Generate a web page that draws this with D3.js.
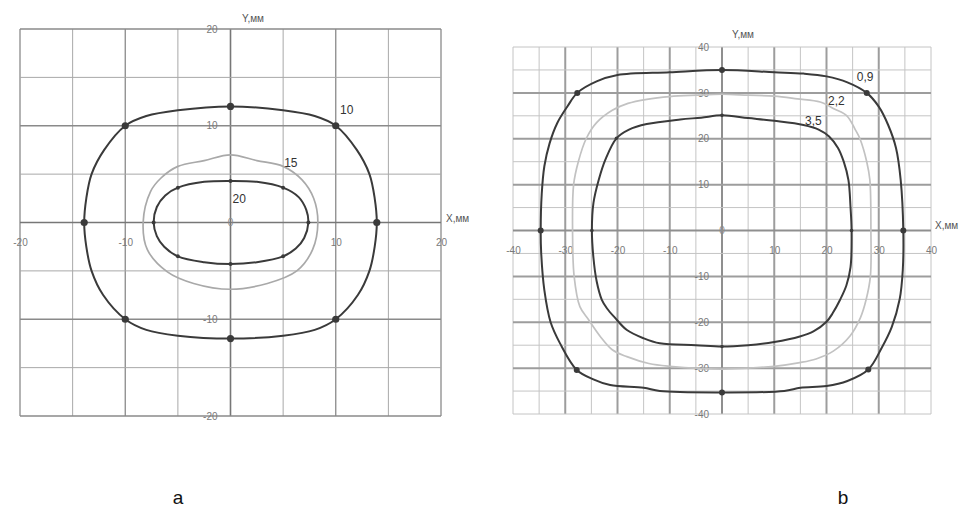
<!DOCTYPE html>
<html>
<head>
<meta charset="utf-8">
<script src="https://cdn.jsdelivr.net/npm/d3@7"></script>
<style>
  body { margin: 0; background: #fff; }
  text { font-family: 'Liberation Sans', sans-serif; }
</style>
</head>
<body>
<svg width="966" height="510"></svg>
<script>
// chart a: contours for 10, 15, 20
const curveA10 = [[0,12],[5,11.6],[8,11],[10,10],[12,7.5],[13.2,5],[13.7,2.5],[13.9,0],[13.7,-2.5],[13.2,-5],[12.1,-7.5],[10,-10],[8,-11.1],[5,-11.7],[0,-12],[-5,-11.7],[-8,-11.1],[-10,-10],[-12.1,-7.5],[-13.2,-5],[-13.7,-2.5],[-13.9,0],[-13.7,2.5],[-13.2,5],[-12,7.5],[-10,10],[-8,11],[-5,11.6]];
const curveA15 = [[0,7],[2.5,6.4],[5,5.8],[6.8,4.4],[7.9,2.5],[8.3,0],[7.8,-2.8],[6.3,-5],[3.5,-6.3],[0,-6.9],[-3.5,-6.3],[-6,-5.1],[-7.9,-2.8],[-8.3,0],[-7.6,3.2],[-6.6,4.6],[-5,5.8],[-2.5,6.4]];
const curveA20 = [[0,4.3],[2.5,4.2],[5,3.6],[6.5,2.6],[7.2,1.3],[7.4,0],[7,-1.6],[6.2,-2.7],[5,-3.5],[2.5,-4.1],[0,-4.3],[-2.5,-4.1],[-5,-3.5],[-6.3,-2.5],[-7,-1.4],[-7.3,0],[-7,1.6],[-6.2,2.8],[-5,3.6],[-2.5,4.2]];
const dotsA10 = [[0,12],[10,10],[13.9,0],[10,-10],[0,-12],[-10,-10],[-13.9,0],[-10,10]];
const dotsA20 = [[0,4.3],[5,3.6],[7.4,0],[5,-3.5],[0,-4.3],[-5,-3.5],[-7.3,0],[-5,3.6]];
const gridA = [-20,-15,-10,-5,0,5,10,15,20];
const majorA = [-20,-10,10,20];
const xTicksA = [-20,-10,10,20];
const yTicksA = [20,10,-10,-20];

// chart b: contours for 0,9 / 2,2 / 3,5
const curveB09 = [[0,35],[10,34.5],[15.6,34.2],[20,33.6],[24,32.3],[27.7,30],[30,27],[31.8,23],[33.3,18],[34.2,11],[34.7,0],[34.6,-8.6],[34,-15],[32.5,-21],[30.6,-25.5],[28,-30.3],[24,-32.8],[20,-33.9],[15,-34.3],[11.9,-35],[0,-35.3],[-11.9,-35],[-15,-34.3],[-21.4,-33.7],[-24.5,-32.5],[-27.8,-30.4],[-31,-24.6],[-32.8,-20],[-34,-13],[-34.6,-5],[-34.7,0],[-34.5,8],[-34,14],[-33,19],[-31.5,23.5],[-29.5,27.2],[-27.7,30],[-24,32.5],[-20,33.9],[-10,34.5]];
const curveB22 = [[0,29.7],[5,29.5],[10,29.3],[14.4,28.7],[18.8,28],[21.5,26.5],[23.9,25],[25.5,22],[26.4,20],[27.7,15],[28.3,11],[28.5,0],[28.4,-10],[27.6,-15],[26.5,-19],[24.5,-23],[21.3,-26.3],[18,-28],[14.9,-28.8],[10,-29.6],[0,-30.2],[-10,-29.6],[-14,-29],[-18.2,-27.5],[-21,-26],[-23.3,-23.1],[-25.5,-19.5],[-27.2,-16.6],[-28.3,-10],[-28.6,0],[-28.4,10],[-27.5,15],[-26,20],[-24,23.5],[-21,26.2],[-18,27.7],[-14.4,28.6],[-10,29.2],[-4.8,29.5]];
const curveB35 = [[0,25.1],[5,24.5],[10,23.9],[15.6,23],[18.5,22],[20.5,20.5],[22.2,18],[23.3,15],[24.2,11],[24.6,5],[24.8,0],[24.6,-8],[23.8,-12],[22.6,-15.1],[21.2,-18],[20,-19.9],[17.5,-22],[14.9,-23.1],[10,-24.3],[5,-25],[0,-25.3],[-5,-25],[-11.9,-24.6],[-15,-23.5],[-18.2,-21.7],[-20.5,-19],[-22,-17],[-23,-15.1],[-24,-11],[-24.6,-6],[-24.9,0],[-24.6,6],[-23.6,11],[-22.3,15.5],[-20.2,20.1],[-17.8,22],[-14.4,23.2],[-8,24.2],[-4,24.6]];
const dotsB09 = [[0,35],[27.7,30],[34.7,0],[28,-30.3],[0,-35.3],[-27.8,-30.4],[-34.7,0],[-27.7,30]];
const dotsB35 = [[0,25.1],[24.8,0],[0,-25.3],[-24.9,0],[-20.2,20.1]];
const gridB = [-40,-35,-30,-25,-20,-15,-10,-5,0,5,10,15,20,25,30,35,40];
const majorB = [-30,-20,-10,10,20,30];
const xTicksB = [-40,-30,-20,-10,10,20,30,40];
const yTicksB = [40,30,20,10,-10,-20,-30,-40];

const svg = d3.select('svg');

function panel(opt) {
  const x = d3.scaleLinear().domain(opt.domain).range(opt.xRange),
    y = d3.scaleLinear().domain(opt.domain).range(opt.yRange);
  const g = svg.append('g');

  const gridColor = (d) => (d === 0 ? opt.axisColor : opt.major.includes(d) ? opt.majorColor : opt.minorColor);
  const gridWidth = (d) => (d === 0 ? opt.axisWidth : opt.major.includes(d) ? opt.majorWidth : 1);

  // grid
  g.selectAll('.vg')
    .data(opt.grid)
    .enter()
    .append('line')
    .attr('x1', (d) => x(d)).attr('x2', (d) => x(d))
    .attr('y1', opt.yRange[1]).attr('y2', opt.yRange[0])
    .attr('stroke', gridColor)
    .attr('stroke-width', gridWidth);
  g.selectAll('.hg')
    .data(opt.grid)
    .enter()
    .append('line')
    .attr('y1', (d) => y(d)).attr('y2', (d) => y(d))
    .attr('x1', opt.xRange[0]).attr('x2', opt.xRange[1])
    .attr('stroke', gridColor)
    .attr('stroke-width', gridWidth);

  // tick labels through axes, no tick marks, plain hyphen minus
  const fmt = (d) => String(d);
  const ax = g.append('g')
    .attr('transform', 'translate(0,' + y(0) + ')')
    .call(d3.axisBottom(x).tickValues(opt.xTicks).tickFormat(fmt).tickSize(0).tickPadding(16));
  const ay = g.append('g')
    .attr('transform', 'translate(' + x(0) + ',0)')
    .call(d3.axisLeft(y).tickValues(opt.yTicks).tickFormat(fmt).tickSize(0).tickPadding(13));
  [ax, ay].forEach((a) => {
    a.select('.domain').remove();
    a.selectAll('text').attr('fill', '#7a7a7a').attr('font-size', '10px')
      .attr('font-family', "'Liberation Sans', sans-serif");
  });
  g.append('text').attr('x', x(0)).attr('y', y(0) + 3.5)
    .attr('text-anchor', 'middle').attr('font-size', '10px').attr('fill', '#8a8a8a').text('0');

  g.append('text').attr('x', opt.yTitle[0]).attr('y', opt.yTitle[1])
    .attr('text-anchor', 'middle').attr('font-size', '10px').attr('fill', '#555').text('Y,мм');
  g.append('text').attr('x', opt.xTitle[0]).attr('y', opt.xTitle[1])
    .attr('font-size', '10px').attr('fill', '#555').text('X,мм');

  const line = d3.line()
    .x((d) => x(d[0]))
    .y((d) => y(d[1]))
    .curve(d3.curveCatmullRomClosed.alpha(0.5));

  opt.curves.forEach((c) => {
    g.append('path')
      .attr('d', line(c.data))
      .attr('fill', 'none')
      .attr('stroke', c.color)
      .attr('stroke-width', c.width);
    if (c.dots) {
      g.selectAll(null)
        .data(c.dots)
        .enter()
        .append('circle')
        .attr('cx', (d) => x(d[0]))
        .attr('cy', (d) => y(d[1]))
        .attr('r', c.r)
        .attr('fill', c.color);
    }
    g.append('text')
      .attr('x', x(c.label[0]))
      .attr('y', y(c.label[1]))
      .attr('font-size', '12px')
      .attr('fill', '#333')
      .text(c.name);
  });

  svg.append('text')
    .attr('x', opt.caption[0]).attr('y', opt.caption[1])
    .attr('text-anchor', 'middle')
    .attr('font-family', "'Liberation Serif', serif")
    .attr('font-size', '19px')
    .attr('fill', '#111')
    .text(opt.captionText);
}

panel({
  domain: [-20, 20],
  xRange: [20, 441],
  yRange: [416, 29],
  grid: gridA,
  major: majorA,
  minorColor: '#a8a8a8',
  majorColor: '#8a8a8a',
  majorWidth: 1.3,
  axisColor: '#777',
  axisWidth: 1.6,
  xTicks: xTicksA,
  yTicks: yTicksA,
  yTitle: [253, 22],
  xTitle: [446, 222],
  curves: [
    { name: '10', data: curveA10, dots: dotsA10, r: 3.6, color: '#3a3a3a', width: 2, label: [10.4, 11.2] },
    { name: '15', data: curveA15, color: '#a9a9a9', width: 1.7, label: [5.1, 5.7] },
    { name: '20', data: curveA20, dots: dotsA20, r: 2, color: '#3a3a3a', width: 2, label: [0.2, 2] }
  ],
  caption: [178, 504],
  captionText: 'a'
});

panel({
  domain: [-40, 40],
  xRange: [513, 931],
  yRange: [414, 47],
  grid: gridB,
  major: majorB,
  minorColor: '#c4c4c4',
  majorColor: '#9d9d9d',
  majorWidth: 2,
  axisColor: '#8f8f8f',
  axisWidth: 2,
  xTicks: xTicksB,
  yTicks: yTicksB,
  yTitle: [743, 38],
  xTitle: [935, 229],
  curves: [
    { name: '0,9', data: curveB09, dots: dotsB09, r: 3, color: '#3a3a3a', width: 2, label: [25.8, 32.5] },
    { name: '2,2', data: curveB22, color: '#c2c2c2', width: 1.7, label: [20.3, 27.3] },
    { name: '3,5', data: curveB35, dots: dotsB35, r: 1.8, color: '#3a3a3a', width: 2, label: [15.9, 23] }
  ],
  caption: [843, 504],
  captionText: 'b'
});
</script>
</body>
</html>
